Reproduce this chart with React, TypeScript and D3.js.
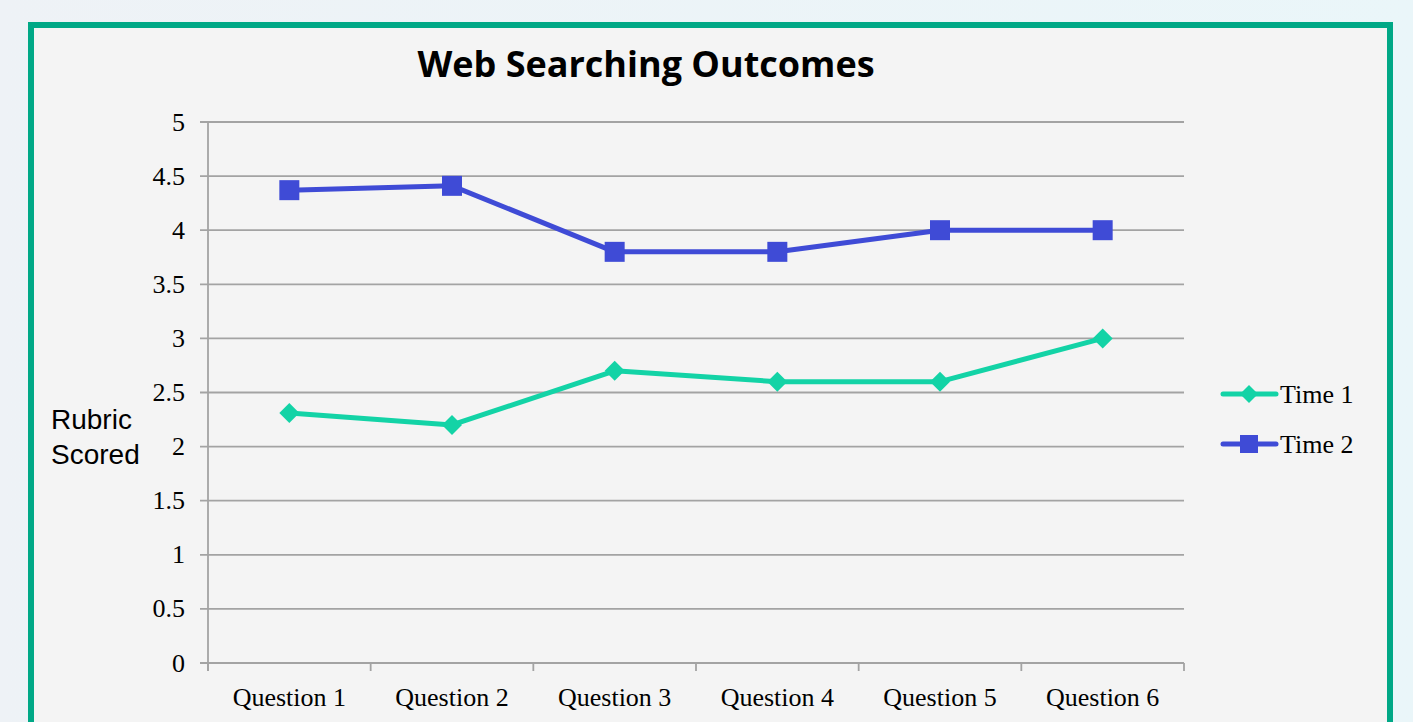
import * as d3 from "d3";

const categories = ["Question 1", "Question 2", "Question 3", "Question 4", "Question 5", "Question 6"];
const time1 = [2.31, 2.2, 2.7, 2.6, 2.6, 3.0];
const time2 = [4.37, 4.41, 3.8, 3.8, 4.0, 4.0];
const yTicks = [0, 0.5, 1, 1.5, 2, 2.5, 3, 3.5, 4, 4.5, 5];

const W = 1413;
const H = 722;
const c1 = "#13d3a6";
const c2 = "#3f4bd6";

export default function App() {
    const x = d3.scaleBand<string>().domain(categories).range([208, 1184]);
    const y = d3.scaleLinear().domain([0, 5]).range([663, 122]);
    const cx = (c: string) => (x(c) ?? 0) + x.bandwidth() / 2;

    const line = d3
        .line<number>()
        .x((_, i) => cx(categories[i]))
        .y((d) => y(d));

    const diamond = (px: number, py: number, r: number) =>
        `M${px},${py - r}L${px + r},${py}L${px},${py + r}L${px - r},${py}Z`;

    const ticksX = categories.map((c) => x(c) ?? 0).concat([1184]);

    return (
        <svg width={W} height={H} style={{ position: "absolute", left: 0, top: 0 }}>
            <defs>
                <linearGradient id="bg" x1="0" x2="1" y1="0" y2="0">
                    <stop offset="0" stopColor="#eef2f6" />
                    <stop offset="1" stopColor="#eaf6f9" />
                </linearGradient>
            </defs>
            <rect width={W} height={H} fill="url(#bg)" />
            <rect x={31} y={25} width={1359} height={720} fill="#f4f4f4" stroke="#00a886" strokeWidth={6} />

            <text x={646} y={77} textAnchor="middle" fontFamily="Open Sans" fontWeight="bold" fontSize={36} fill="#000">
                Web Searching Outcomes
            </text>

            {yTicks.map((t) => (
                <g key={t}>
                    <line x1={200} x2={1184} y1={y(t)} y2={y(t)} stroke="#a3a3a3" strokeWidth={1.8} />
                    <text x={185} y={y(t) + 8.5} textAnchor="end" fontFamily="Liberation Serif" fontSize={26} fill="#000">
                        {t}
                    </text>
                </g>
            ))}
            <line x1={208} x2={208} y1={y(5)} y2={671} stroke="#a3a3a3" strokeWidth={1.8} />
            {ticksX.map((t, i) => (
                <line key={i} x1={t} x2={t} y1={663} y2={671} stroke="#a3a3a3" strokeWidth={1.8} />
            ))}
            {categories.map((c) => (
                <text key={c} x={cx(c)} y={706} textAnchor="middle" fontFamily="Liberation Serif" fontSize={26} fill="#000">
                    {c}
                </text>
            ))}

            <text fontFamily="Liberation Sans" fontSize={28} fill="#000">
                <tspan x={51} y={429}>Rubric</tspan>
                <tspan x={51} y={464}>Scored</tspan>
            </text>

            <path d={line(time1) ?? ""} fill="none" stroke={c1} strokeWidth={5} strokeLinejoin="round" />
            {time1.map((v, i) => (
                <path key={i} d={diamond(cx(categories[i]), y(v), 10)} fill={c1} />
            ))}
            <path d={line(time2) ?? ""} fill="none" stroke={c2} strokeWidth={5} strokeLinejoin="round" />
            {time2.map((v, i) => (
                <rect key={i} x={cx(categories[i]) - 10} y={y(v) - 10} width={20} height={20} fill={c2} />
            ))}

            <line x1={1223} x2={1276} y1={394} y2={394} stroke={c1} strokeWidth={5} strokeLinecap="round" />
            <path d={diamond(1249, 394, 9)} fill={c1} />
            <text x={1280} y={403} fontFamily="Liberation Serif" fontSize={26} fill="#000">Time 1</text>
            <line x1={1223} x2={1276} y1={444} y2={444} stroke={c2} strokeWidth={5} strokeLinecap="round" />
            <rect x={1240} y={435} width={18} height={18} fill={c2} />
            <text x={1280} y={453} fontFamily="Liberation Serif" fontSize={26} fill="#000">Time 2</text>
        </svg>
    );
}
